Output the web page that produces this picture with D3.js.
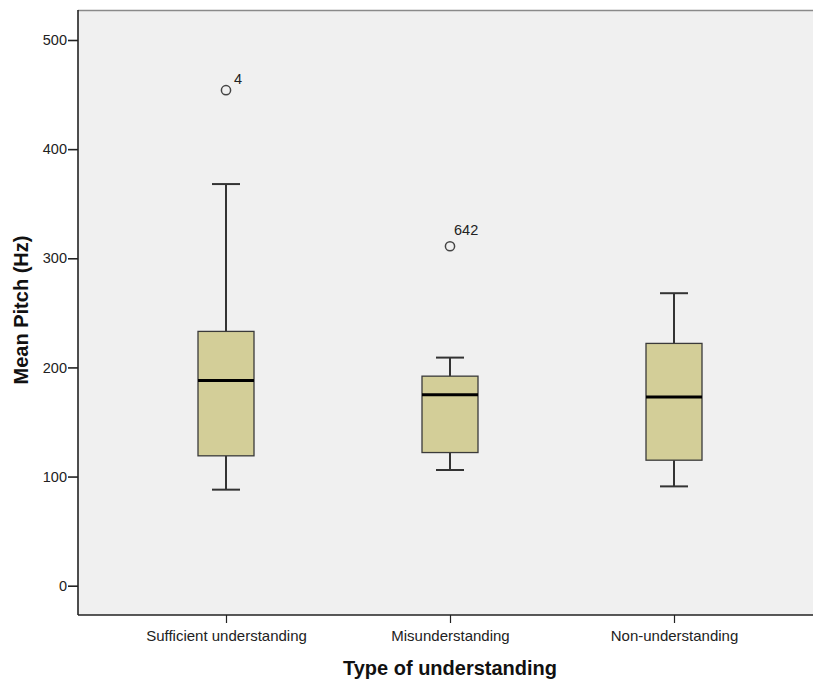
<!DOCTYPE html>
<html>
<head>
<meta charset="utf-8">
<script src="https://cdn.jsdelivr.net/npm/d3@7/dist/d3.min.js"></script>
<style>
  html, body { margin: 0; padding: 0; background: #ffffff; }
  text { font-family: "Liberation Sans", Arial, sans-serif; }
</style>
</head>
<body>
<svg id="chart" width="813" height="684"></svg>
<script>
// Box plot summaries of mean pitch per understanding type
const categories = ["Sufficient understanding", "Misunderstanding", "Non-understanding"];
const whiskerLow  = [88, 106, 91];
const quartile1   = [119, 122, 115];
const medians     = [188, 175, 173];
const quartile3   = [233, 192, 222];
const whiskerHigh = [368, 209, 268];
const outlierValues = [454, 311];
const outlierGroups = ["Sufficient understanding", "Misunderstanding"];
const outlierLabels = ["4", "642"];
const yTicks = [0, 100, 200, 300, 400, 500];

const FONT = "'Liberation Sans', Arial, sans-serif";
const svg = d3.select("#chart");
const plot = { left: 78, right: 813, top: 10, bottom: 615 };

const x = d3.scalePoint().domain(categories).range([226, 674]);
const y = d3.scaleLinear().domain([0, 500]).range([585.7, 40]);

// plot background
svg.append("rect")
  .attr("x", plot.left).attr("y", plot.top)
  .attr("width", plot.right - plot.left).attr("height", plot.bottom - plot.top)
  .attr("fill", "#f0f0f0");
svg.append("line")
  .attr("x1", plot.left).attr("x2", plot.right)
  .attr("y1", plot.top + 0.5).attr("y2", plot.top + 0.5)
  .attr("stroke", "#8a8a8a").attr("stroke-width", 1.5);

// y axis
const yAxis = svg.append("g")
  .attr("transform", `translate(${plot.left},0)`)
  .call(d3.axisLeft(y).tickValues(yTicks).tickSize(10).tickPadding(1).tickSizeOuter(0));
yAxis.select(".domain").remove();
yAxis.append("line")
  .attr("x1", 0).attr("x2", 0).attr("y1", plot.top).attr("y2", plot.bottom)
  .attr("stroke", "#222").attr("stroke-width", 1.6);
yAxis.selectAll(".tick line").attr("stroke", "#222").attr("stroke-width", 1.6);
yAxis.selectAll(".tick text").attr("font-size", 14.5).attr("fill", "#222")
  .style("font-family", FONT);

// x axis
const xAxis = svg.append("g")
  .attr("transform", `translate(0,${plot.bottom})`)
  .call(d3.axisBottom(x).tickSize(8).tickPadding(7).tickSizeOuter(0));
xAxis.select(".domain").remove();
xAxis.append("line")
  .attr("x1", plot.left).attr("x2", plot.right).attr("y1", 0).attr("y2", 0)
  .attr("stroke", "#222").attr("stroke-width", 1.6);
xAxis.selectAll(".tick line").attr("stroke", "#222").attr("stroke-width", 1.2);
xAxis.selectAll(".tick text").attr("font-size", 15).attr("fill", "#222")
  .style("font-family", FONT);

// boxes
const boxW = 56, capW = 28;
const data = categories.map((c, i) => ({
  c, lo: whiskerLow[i], q1: quartile1[i], med: medians[i], q3: quartile3[i], hi: whiskerHigh[i]
}));
const g = svg.append("g");
const box = g.selectAll("g.box").data(data).join("g").attr("class", "box");

box.append("line")
  .attr("x1", d => x(d.c)).attr("x2", d => x(d.c))
  .attr("y1", d => y(d.hi)).attr("y2", d => y(d.q3))
  .attr("stroke", "#333").attr("stroke-width", 2);
box.append("line")
  .attr("x1", d => x(d.c)).attr("x2", d => x(d.c))
  .attr("y1", d => y(d.q1)).attr("y2", d => y(d.lo))
  .attr("stroke", "#333").attr("stroke-width", 2);
box.append("line")
  .attr("x1", d => x(d.c) - capW / 2).attr("x2", d => x(d.c) + capW / 2)
  .attr("y1", d => y(d.hi)).attr("y2", d => y(d.hi))
  .attr("stroke", "#333").attr("stroke-width", 2);
box.append("line")
  .attr("x1", d => x(d.c) - capW / 2).attr("x2", d => x(d.c) + capW / 2)
  .attr("y1", d => y(d.lo)).attr("y2", d => y(d.lo))
  .attr("stroke", "#333").attr("stroke-width", 2);
box.append("rect")
  .attr("x", d => x(d.c) - boxW / 2).attr("width", boxW)
  .attr("y", d => y(d.q3)).attr("height", d => y(d.q1) - y(d.q3))
  .attr("fill", "#d3ce98").attr("stroke", "#3a3a3a").attr("stroke-width", 1.3);
box.append("line")
  .attr("x1", d => x(d.c) - boxW / 2).attr("x2", d => x(d.c) + boxW / 2)
  .attr("y1", d => y(d.med)).attr("y2", d => y(d.med))
  .attr("stroke", "#000").attr("stroke-width", 3);

// outliers with case labels
const outliers = outlierValues.map((v, i) => ({ v, c: outlierGroups[i], label: outlierLabels[i] }));
g.selectAll("circle.out").data(outliers).join("circle")
  .attr("class", "out")
  .attr("cx", d => x(d.c)).attr("cy", d => y(d.v)).attr("r", 4.6)
  .attr("fill", "none").attr("stroke", "#444").attr("stroke-width", 1.5);
g.selectAll("text.out").data(outliers).join("text")
  .attr("class", "out")
  .attr("x", (d, i) => x(d.c) + (i === 0 ? 8 : 4))
  .attr("y", (d, i) => y(d.v) - (i === 0 ? 6 : 11))
  .attr("font-size", 14.5).attr("fill", "#222")
  .text(d => d.label);

// axis titles
svg.append("text")
  .attr("x", 450).attr("y", 675)
  .attr("text-anchor", "middle").attr("font-size", 20).attr("font-weight", "bold")
  .attr("fill", "#111")
  .text("Type of understanding");
svg.append("text")
  .attr("transform", `translate(28,310) rotate(-90)`)
  .attr("text-anchor", "middle").attr("font-size", 20).attr("font-weight", "bold")
  .attr("fill", "#111")
  .text("Mean Pitch (Hz)");
</script>
</body>
</html>
